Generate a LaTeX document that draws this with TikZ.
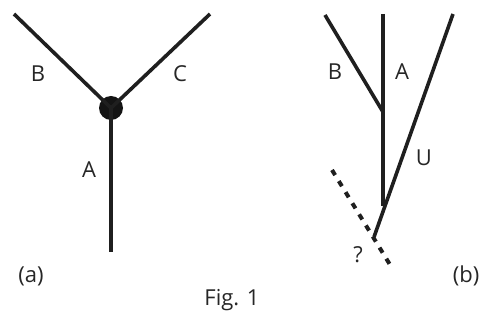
\documentclass[tikz,border=0pt]{standalone}
\usepackage{fontspec}
\setmainfont{Open Sans}
\begin{document}
\begin{tikzpicture}[x=1pt,y=-1pt,
  branch/.style={line width=3.6pt,draw=black!88},
  lbl/.style={font=\fontsize{22}{24}\selectfont,text=black!85,inner sep=0pt},
  dotted branch/.style={line width=4pt,draw=black!88,dash pattern=on 6pt off 7pt}]
\useasboundingbox (0,0) rectangle (485,320);
% (a)
\coordinate (bA) at (14,14);
\coordinate (cA) at (210,14);
\coordinate (aEnd) at (111,252);
\node[circle,fill=black!92,minimum size=24pt,inner sep=0pt] (j) at (111,108) {};
\draw[branch] (bA) -- (j.center);
\draw[branch] (cA) -- (j.center);
\draw[branch] (j.center) -- (aEnd);
\node[lbl] (labB) at (38,74) {B};
\node[lbl] (labC) at (180,74) {C};
\node[lbl] (labA) at (89,170) {A};
\node[lbl] (la) at (31,276) {(a)};
\node[lbl] (fig) at (232,300) {Fig. 1};
% (b)
\coordinate (top) at (383,14);
\coordinate (split) at (383,112);
\coordinate (low) at (383,206);
\coordinate (bB) at (325,15);
\coordinate (uTop) at (453,14);
\coordinate (root) at (374,237);
\coordinate (dStart) at (332,170);
\coordinate (dEnd) at (392,268);
\draw[branch] (top) -- (low);
\draw[branch] (bB) -- (split);
\draw[branch] (uTop) -- (root);
\draw[dotted branch] (dStart) -- (dEnd);
\node[lbl] (labB2) at (335,72) {B};
\node[lbl] (labA2) at (402,72) {A};
\node[lbl] (labU) at (424,158) {U};
\node[lbl] (labQ) at (358,255) {?};
\node[lbl] (lb) at (466,276) {(b)};
\end{tikzpicture}
\end{document}
